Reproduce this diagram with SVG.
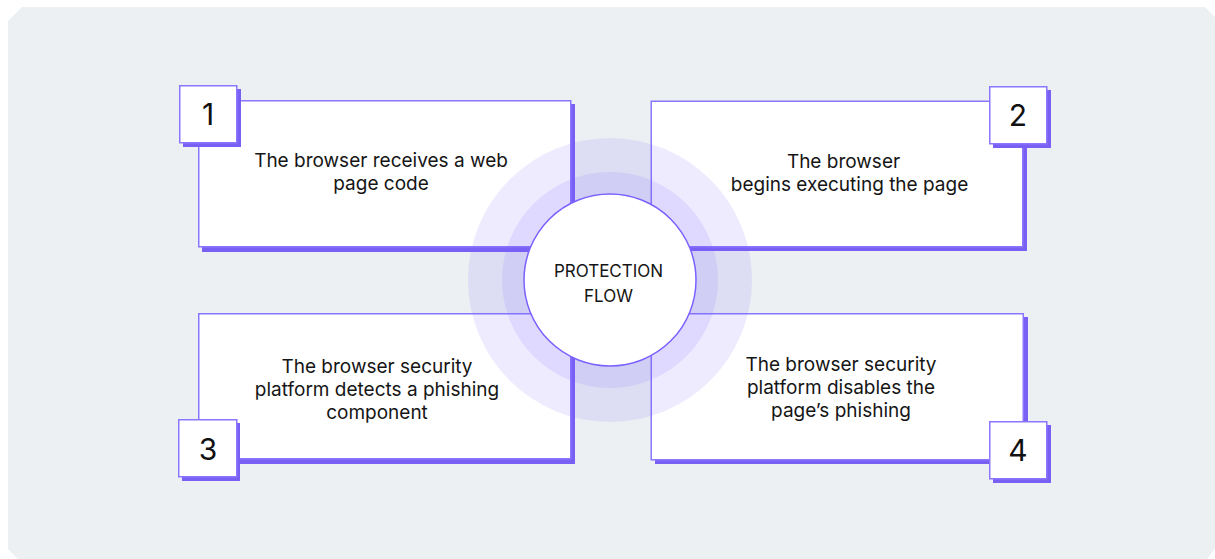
<svg xmlns="http://www.w3.org/2000/svg" width="1215" height="559" viewBox="0 0 1215 559">
<style>
.bg{fill:#ecf0f3}
.shadow{fill:#7a5ff5}
.box{fill:#ffffff;stroke:#8a76ff;stroke-width:1.5}
.txt{font-family:Inter,"Noto Sans",sans-serif;font-size:19px;font-weight:400;fill:#151515;text-anchor:middle}
.num{font-family:Inter,"Noto Sans",sans-serif;font-size:30px;fill:#111;text-anchor:middle}
.ctr{font-family:Inter,"Noto Sans",sans-serif;font-size:17px;fill:#151515;text-anchor:middle}
.halo{fill:#7b61ff;fill-opacity:0.13}
</style>
<polygon class="bg" points="22,7 1205,7 1215,17 1215,549 1207,559 18,559 8,549 8,21"/>
<g id="node1">
<rect class="shadow" x="202" y="104" width="373" height="148"/>
<rect class="box" x="198.75" y="100.75" width="372" height="146"/>
<rect class="shadow" x="183" y="89" width="58" height="58"/>
<rect class="box" x="179.75" y="85.75" width="57" height="57"/>
<text class="num" x="208" y="125">1</text>
<text class="txt" x="381" y="167">The browser receives a web</text>
<text class="txt" x="381" y="190">page code</text>
</g>
<g id="node2">
<rect class="shadow" x="655" y="105" width="372" height="146"/>
<rect class="box" x="651.25" y="101.25" width="371.5" height="145.5"/>
<rect class="shadow" x="993" y="90" width="58" height="58"/>
<rect class="box" x="989.75" y="86.75" width="57" height="57"/>
<text class="num" x="1018" y="126">2</text>
<text class="txt" x="843.5" y="168">The browser</text>
<text class="txt" x="849.5" y="191">begins executing the page</text>
</g>
<g id="node3">
<rect class="shadow" x="202" y="317" width="373" height="147"/>
<rect class="box" x="198.75" y="313.75" width="372" height="145"/>
<rect class="shadow" x="182" y="423" width="58" height="58"/>
<rect class="box" x="178.75" y="419.75" width="58" height="57"/>
<text class="num" x="208" y="460">3</text>
<text class="txt" x="377" y="373">The browser security</text>
<text class="txt" x="377" y="396">platform detects a phishing</text>
<text class="txt" x="377" y="419">component</text>
</g>
<g id="node4">
<rect class="shadow" x="655" y="317" width="373" height="147"/>
<rect class="box" x="651.25" y="313.75" width="372" height="146"/>
<rect class="shadow" x="993" y="425" width="58" height="58"/>
<rect class="box" x="989.75" y="421.75" width="57" height="57"/>
<text class="num" x="1018" y="461">4</text>
<text class="txt" x="841" y="371">The browser security</text>
<text class="txt" x="841" y="394">platform disables the</text>
<text class="txt" x="841" y="417">page’s phishing</text>
</g>
<g id="center">
<circle class="halo" cx="610" cy="280" r="142"/>
<circle class="halo" cx="610" cy="280" r="108"/>
<circle cx="610" cy="280" r="86" fill="#ffffff" stroke="#7b61ff" stroke-width="1.5"/>
<text class="ctr" x="608.5" y="277">PROTECTION</text>
<text class="ctr" x="608.5" y="302">FLOW</text>
</g>
<g id="connectors"></g>
</svg>
